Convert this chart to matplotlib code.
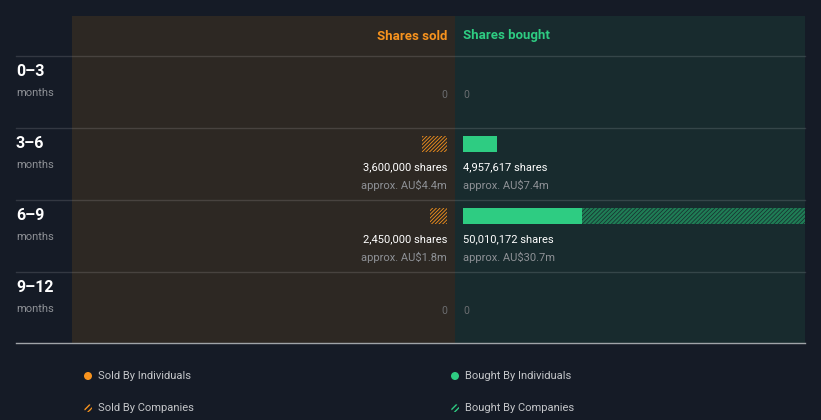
import matplotlib
matplotlib.use("Agg")
import matplotlib.pyplot as plt
from matplotlib.patches import Rectangle, Circle

plt.rcParams['font.family'] = ['Roboto', 'DejaVu Sans']
plt.rcParams['hatch.linewidth'] = 1.0

# ---------------- data ----------------
periods = ["0\u20133", "3\u20136", "6\u20139", "9\u201312"]
period_unit = "months"
sold_individuals = [0, 0, 0, 0]
sold_companies = [0, 3600000, 2450000, 0]
bought_individuals = [0, 4957617, 17400000, 0]
bought_companies = [0, 0, 32610172, 0]
sold_labels = ["0", "3,600,000 shares", "2,450,000 shares", "0"]
sold_values = ["", "approx. AU$4.4m", "approx. AU$1.8m", ""]
bought_labels = ["0", "4,957,617 shares", "50,010,172 shares", "0"]
bought_values = ["", "approx. AU$7.4m", "approx. AU$30.7m", ""]
legend_labels = ["Sold By Individuals", "Sold By Companies",
                 "Bought By Individuals", "Bought By Companies"]

# ---------------- style ----------------
W, H = 821, 420
BG = "#151b26"
SOLD_BG = "#2d2823"
BOUGHT_BG = "#182b2e"
ORANGE = "#f7931e"
GREEN = "#2ecc82"
GREEN_HATCH = "#1f7d55"
WHITE = "#ffffff"
GRAY = "#8e9196"
DIM = "#6b6d70"


def set_hlw(artists, lw):
    for a in artists:
        if hasattr(a, "set_hatch_linewidth"):
            a.set_hatch_linewidth(lw)


fig = plt.figure(figsize=(W / 100, H / 100), dpi=100, facecolor=BG)
ax = fig.add_axes([0, 0, 1, 1])
ax.set_xlim(0, W)
ax.set_ylim(H, 0)
ax.axis("off")

top, head_h, row_h = 16, 40, 72
sold_l, mid, right = 72, 455, 805
zero_pad = 8

ax.add_patch(Rectangle((sold_l, top), mid - sold_l, head_h + row_h * 4 - 1, color=SOLD_BG, lw=0))
ax.add_patch(Rectangle((mid, top), right - mid, head_h + row_h * 4 - 1, color=BOUGHT_BG, lw=0))

ax.text(mid - zero_pad, top + 20, "Shares sold", color=ORANGE, ha="right", va="center",
        fontsize=9.5, fontweight="bold")
ax.text(mid + zero_pad, top + 20, "Shares bought", color=GREEN, ha="left", va="center",
        fontsize=9.5, fontweight="bold")

FS = 8.0
for i, p in enumerate(periods):
    rt = top + head_h + i * row_h
    ax.plot([16, right], [rt, rt], color="white", alpha=0.13, lw=1)
    ax.text(16, rt + 15, p, color=WHITE, fontsize=11.5, fontweight="bold", ha="left", va="center")
    ax.text(16, rt + 37, period_unit, color=GRAY, fontsize=8, ha="left", va="center")
    total_sold = sold_individuals[i] + sold_companies[i]
    total_bought = bought_individuals[i] + bought_companies[i]
    if total_sold == 0:
        ax.text(mid - zero_pad, rt + 39, sold_labels[i], color=DIM, fontsize=7.5, ha="right", va="center")
    else:
        ax.text(mid - zero_pad, rt + 39, sold_labels[i], color=WHITE, fontsize=FS, ha="right", va="center")
        ax.text(mid - zero_pad, rt + 57, sold_values[i], color=GRAY, fontsize=FS, ha="right", va="center")
    if total_bought == 0:
        ax.text(mid + zero_pad, rt + 39, bought_labels[i], color=DIM, fontsize=7.5, ha="left", va="center")
    else:
        ax.text(mid + zero_pad, rt + 39, bought_labels[i], color=WHITE, fontsize=FS, ha="left", va="center")
        ax.text(mid + zero_pad, rt + 57, bought_values[i], color=GRAY, fontsize=FS, ha="left", va="center")

bottom = top + head_h + row_h * 4 - 1
ax.plot([16, right], [bottom, bottom], color="#a0a4a8", lw=1)

# ---------------- bars (in share units) ----------------
max_total = max(b + c for b, c in zip(bought_individuals, bought_companies))
px_per_share = (right - mid - zero_pad) / max_total

bought_ax = fig.add_axes([mid / W, 0, (right - mid) / W, 1])
bought_ax.set_xlim(-zero_pad / px_per_share, max_total)
bought_ax.set_ylim(H, 0)
bought_ax.axis("off")

sold_ax = fig.add_axes([sold_l / W, 0, (mid - sold_l) / W, 1])
sold_ax.set_xlim((mid - zero_pad - sold_l) / px_per_share, -zero_pad / px_per_share)
sold_ax.set_ylim(H, 0)
sold_ax.axis("off")

bar_y = [top + head_h + i * row_h + 16 for i in range(len(periods))]
bar_h = 16

bought_ax.barh(bar_y, bought_individuals, height=bar_h, color=GREEN, lw=0)
with plt.rc_context({"hatch.linewidth": 1.6}):
    bc = bought_ax.barh(bar_y, bought_companies, left=bought_individuals, height=bar_h,
                        facecolor="none", edgecolor=GREEN_HATCH, hatch="////////", lw=0)
    set_hlw(bc, 1.6)
sold_ax.barh(bar_y, sold_individuals, height=bar_h, color=ORANGE, lw=0)
with plt.rc_context({"hatch.linewidth": 0.6}):
    sc = sold_ax.barh(bar_y, sold_companies, left=sold_individuals, height=bar_h,
                      facecolor="none", edgecolor=ORANGE, hatch="/////////", lw=0)
    set_hlw(sc, 0.6)

# ---------------- legend ----------------
leg_pos = [(88, 376), (88, 408), (455, 376), (455, 408)]
leg_col = [ORANGE, ORANGE, GREEN, GREEN]
leg_hatch = [None, "//////", None, "//////"]
for (lx, ly), lab, c, h in zip(leg_pos, legend_labels, leg_col, leg_hatch):
    if h is None:
        ax.add_patch(Circle((lx, ly), 4, color=c, lw=0))
    else:
        ax.add_patch(Circle((lx, ly), 4, facecolor="none", edgecolor=c, hatch=h, lw=0))
    ax.text(lx + 10, ly, lab, color="#c4c6c9", fontsize=8, ha="left", va="center")

fig.savefig("out.png", dpi=100, facecolor=BG)
